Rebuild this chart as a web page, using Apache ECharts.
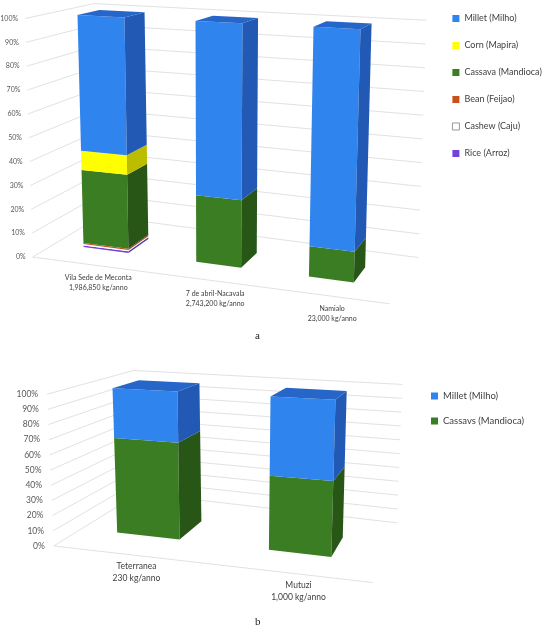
<!DOCTYPE html>
<html>
<head>
<meta charset="utf-8">
<script src="https://cdn.jsdelivr.net/npm/echarts@6/dist/echarts.min.js"></script>
<style>
html, body { margin: 0; padding: 0; background: #fff; }
#main { width: 546px; height: 631px; }
</style>
</head>
<body>
<div id="main"></div>
<script>
// data, chart a (percent of each location)
var catsA = ['Vila Sede de Meconta\n1,986,850 kg/anno', '7 de abril-Nacavala\n2,743,200 kg/anno', 'Namialo\n23,000 kg/anno'];
var riceA = [0.7, 0, 0];
var cashewA = [0.6, 0, 0];
var beanA = [0.5, 0, 0];
var cassavaA = [31.4, 27.6, 12.1];
var cornA = [8.3, 0, 0];
var milletA = [58.5, 72.4, 87.9];

// data, chart b
var catsB = ['Teterranea\n230 kg/anno', 'Mutuzi\n1,000 kg/anno'];
var cassavaB = [65.4, 48.3];
var milletB = [34.6, 51.7];

var ticks = [0, 10, 20, 30, 40, 50, 60, 70, 80, 90, 100];

// fake 3d look: front plane shear + vanishing point for depth
var geoA = { xRef: 77, floor: 0.125, top: 0.05, xV: 212, cV: 0.045, vp: [652, -117],
  depth: 0.038, barW: 47, wallL: 6, wallR: 12, lab: [13, 9], tickDx: -7,
  tickFont: 7, catFont: 7, catLine: 10 };
var geoB = { xRef: 115, floor: 0.11, top: 0.052, xV: 230, cV: 0.04, vp: [500, 270],
  depth: 0.068, barW: 65, wallL: 10, wallR: 5, lab: [12, 6.5], tickDx: -9,
  tickFont: 8.5, catFont: 8.5, catLine: 12 };

function project(g, xf, yf, p, k) {
  var y = yf + (xf - g.xRef) * (g.floor - (g.floor - g.top) * p / 100);
  var x = xf + (g.xV - xf) * g.cV * (1 - p / 100);
  return [g.vp[0] + (1 - k) * (x - g.vp[0]), g.vp[1] + (1 - k) * (y - g.vp[1])];
}

function stackData(list) {
  // list: arrays from bottom to top, returns [cat, start, end] per array
  var out = [];
  var base = list[0].map(function () { return 0; });
  list.forEach(function (arr) {
    out.push(arr.map(function (v, i) {
      var d = [i, base[i], base[i] + v];
      base[i] += v;
      return d;
    }));
  });
  return out;
}

function barItem(g, c) {
  return function (params, api) {
    var i = api.value(0), s = api.value(1), e = api.value(2);
    if (e - s <= 0) return;
    var cx = api.coord([i, 0])[0];
    var L = cx - g.barW / 2, R = cx + g.barW / 2;
    function P(x, p, k) { return project(g, x, api.coord([i, p])[1], p, k); }
    var ch = [
      { type: 'polygon', shape: { points: [P(L, s, 0), P(R, s, 0), P(R, e, 0), P(L, e, 0)] }, style: { fill: c.front } },
      { type: 'polygon', shape: { points: [P(R, s, 0), P(R, s, g.depth), P(R, e, g.depth), P(R, e, 0)] }, style: { fill: c.side } }
    ];
    if (e >= 99.9) {
      ch.push({ type: 'polygon', shape: { points: [P(L, e, 0), P(R, e, 0), P(R, e, g.depth), P(L, e, g.depth)] }, style: { fill: c.top } });
    }
    return { type: 'group', children: ch };
  };
}

function wallItem(g) {
  return function (params, api) {
    var p = api.value(1);
    var cs = params.coordSys;
    var xL = cs.x + g.wallL, xR = cs.x + cs.width + g.wallR;
    var yf = api.coord([0, p])[1];
    var a = project(g, xL, yf, p, -g.depth);
    var b = project(g, xL, yf, p, 2 * g.depth);
    var c = project(g, xR, yf, p, 2 * g.depth);
    var ch = [
      { type: 'polyline', shape: { points: [a, b, c] }, style: { stroke: '#d9d9d9', lineWidth: 0.8, fill: null } },
      { type: 'text', x: a[0] + g.tickDx, y: a[1],
        style: { text: p + '%', align: 'right', verticalAlign: 'middle', fontSize: g.tickFont, fontFamily: 'Lato', fill: '#595959' } }
    ];
    if (p === 0) {
      var d = project(g, xR, yf, 0, -g.depth);
      ch.push({ type: 'line', shape: { x1: a[0], y1: a[1], x2: d[0], y2: d[1] }, style: { stroke: '#d9d9d9', lineWidth: 0.8 } });
    }
    return { type: 'group', children: ch };
  };
}

function catItem(g, cats) {
  return function (params, api) {
    var i = api.value(0);
    var pt = api.coord([i, 0]);
    var f = project(g, pt[0], pt[1], 0, -g.depth);
    return { type: 'text', x: f[0] + g.lab[0], y: f[1] + g.lab[1],
      style: { text: cats[i], align: 'center', verticalAlign: 'top', fontSize: g.catFont,
        lineHeight: g.catLine, fontFamily: 'Lato', fill: '#404040' } };
  };
}

var colMillet = { front: '#2f84ee', side: '#2159b5', top: '#2766c9' };
var colCorn = { front: '#ffff00', side: '#bdbd00', top: '#e0e000' };
var colCassava = { front: '#3a7d22', side: '#275617', top: '#2f6a1c' };
var colBean = { front: '#c8501a', side: '#963c13', top: '#b04616' };
var colCashew = { front: '#ffffff', side: '#e8e8e8', top: '#f2f2f2' };
var colRice = { front: '#7143dc', side: '#5430a8', top: '#6038c0' };

var namesA = ['Rice (Arroz)', 'Cashew (Caju)', 'Bean (Feijao)', 'Cassava (Mandioca)', 'Corn (Mapira)', 'Millet (Milho)'];
var colsA = [colRice, colCashew, colBean, colCassava, colCorn, colMillet];
var stA = stackData([riceA, cashewA, beanA, cassavaA, cornA, milletA]);
var namesB = ['Cassavs (Mandioca)', 'Millet (Milho)'];
var colsB = [colCassava, colMillet];
var stB = stackData([cassavaB, milletB]);

var series = [];
series.push({ type: 'custom', xAxisIndex: 0, yAxisIndex: 0, z: 1, silent: true,
  data: ticks.map(function (t) { return [0, t]; }), renderItem: wallItem(geoA) });
series.push({ type: 'custom', xAxisIndex: 1, yAxisIndex: 1, z: 1, silent: true,
  data: ticks.map(function (t) { return [0, t]; }), renderItem: wallItem(geoB) });
namesA.forEach(function (n, k) {
  series.push({ name: n, type: 'custom', xAxisIndex: 0, yAxisIndex: 0, z: 2,
    itemStyle: { color: colsA[k].front },
    encode: { x: 0, y: 2 }, data: stA[k], renderItem: barItem(geoA, colsA[k]) });
});
namesB.forEach(function (n, k) {
  series.push({ name: n, type: 'custom', xAxisIndex: 1, yAxisIndex: 1, z: 2,
    itemStyle: { color: colsB[k].front },
    encode: { x: 0, y: 2 }, data: stB[k], renderItem: barItem(geoB, colsB[k]) });
});
series.push({ type: 'custom', xAxisIndex: 0, yAxisIndex: 0, z: 3, silent: true,
  data: catsA.map(function (c, i) { return [i, 0]; }), renderItem: catItem(geoA, catsA) });
series.push({ type: 'custom', xAxisIndex: 1, yAxisIndex: 1, z: 3, silent: true,
  data: catsB.map(function (c, i) { return [i, 0]; }), renderItem: catItem(geoB, catsB) });

var myChart = echarts.init(document.getElementById('main'));
var option = {
  animation: false,
  backgroundColor: '#fff',
  grid: [
    { left: 42, top: 15, width: 354, height: 232 },
    { left: 66, top: 388.3, width: 316, height: 144.4 }
  ],
  xAxis: [
    { type: 'category', gridIndex: 0, data: catsA, show: false },
    { type: 'category', gridIndex: 1, data: catsB, show: false }
  ],
  yAxis: [
    { type: 'value', gridIndex: 0, min: 0, max: 100, show: false },
    { type: 'value', gridIndex: 1, min: 0, max: 100, show: false }
  ],
  legend: [
    {
      orient: 'vertical', left: 452, top: 14, padding: 0, itemWidth: 7, itemHeight: 7, itemGap: 18, icon: 'rect',
      textStyle: { fontSize: 9, fontFamily: 'Lato', color: '#404040' },
      data: ['Millet (Milho)', 'Corn (Mapira)', 'Cassava (Mandioca)', 'Bean (Feijao)',
        { name: 'Cashew (Caju)', itemStyle: { color: '#fff', borderColor: '#7f7f7f', borderWidth: 0.8 } },
        'Rice (Arroz)']
    },
    {
      orient: 'vertical', left: 431, top: 391, padding: 0, itemWidth: 7, itemHeight: 7, itemGap: 15, icon: 'rect',
      textStyle: { fontSize: 9.5, fontFamily: 'Lato', color: '#404040' },
      data: ['Millet (Milho)', 'Cassavs (Mandioca)']
    }
  ],
  graphic: [
    { type: 'text', left: 255, top: 331, style: { text: 'a', fontSize: 11, fontFamily: 'Liberation Serif', fill: '#222' } },
    { type: 'text', left: 255, top: 617, style: { text: 'b', fontSize: 11, fontFamily: 'Liberation Serif', fill: '#222' } }
  ],
  series: series
};
myChart.setOption(option);
</script>
</body>
</html>
